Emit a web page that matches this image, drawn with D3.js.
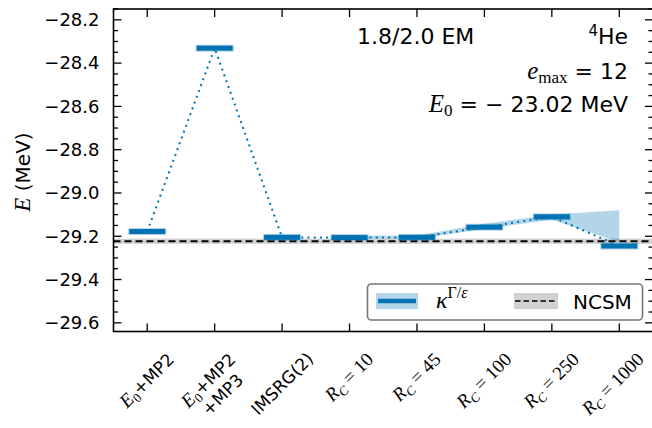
<!DOCTYPE html>
<html>
<head>
<meta charset="utf-8">
<script src="https://cdn.jsdelivr.net/npm/d3@7"></script>
<style>
  body { margin: 0; background: #fff; }
  svg { display: block; }
</style>
</head>
<body>
<div id="vis"></div>
<script>
// Energies of 4He for each method / truncation

/* *************************** Data ***************************** */
var categories = ['E0+MP2', 'E0+MP2+MP3', 'IMSRG(2)', 'Rc10', 'Rc45', 'Rc100', 'Rc250', 'Rc1000'];
var energies = [-29.178, -28.331, -29.205, -29.206, -29.205, -29.158, -29.110, -29.245];
var rcValues = ['10', '45', '100', '250', '1000'];

// uncertainty band for the R_C points (indices 3..7)
var bandIndex = [3, 4, 5, 6, 7];
var bandLow = [-29.212, -29.212, -29.166, -29.124, -29.228];
var bandHigh = [-29.198, -29.196, -29.142, -29.100, -29.080];

// NCSM reference value and its band
var ncsm = -29.223;
var ncsmBand = [-29.235, -29.211];

var yTicks = [-28.2, -28.4, -28.6, -28.8, -29.0, -29.2, -29.4, -29.6];
var yMinorTicks = d3.range(-29.6, -28.15, 0.05);

/* *************************** Settings ***************************** */
var width = 652;
var height = 428;
var margin = { left: 113.5, right: -1, top: 9, bottom: 96.5 };
var drawWidth = width - margin.left - margin.right;
var drawHeight = height - margin.top - margin.bottom;

var blue = '#0173b2';
var sans = '"DejaVu Sans", sans-serif';
var serif = '"Liberation Serif", "DejaVu Serif", serif';

var svg = d3.select('#vis').append('svg')
    .attr('width', width)
    .attr('height', height);

var xScale = d3.scaleLinear().domain([-0.5, 7.5]).range([margin.left, margin.left + drawWidth]);
var yScale = d3.scaleLinear().domain([-29.64, -28.15]).range([margin.top + drawHeight, margin.top]);

var x0 = margin.left, x1 = margin.left + drawWidth;
var yTop = margin.top, yBot = margin.top + drawHeight;

/* *************************** Marks ***************************** */
// R_C band
var area = d3.area()
    .x(function(d, i) { return xScale(bandIndex[i]); })
    .y0(function(d, i) { return yScale(bandLow[i]); })
    .y1(function(d, i) { return yScale(bandHigh[i]); });
svg.append('path')
    .datum(bandIndex)
    .attr('d', area)
    .attr('fill', blue)
    .attr('fill-opacity', 0.3);

// NCSM band and line
svg.append('rect')
    .attr('x', x0).attr('width', drawWidth)
    .attr('y', yScale(ncsmBand[1]))
    .attr('height', yScale(ncsmBand[0]) - yScale(ncsmBand[1]))
    .attr('fill', '#000').attr('fill-opacity', 0.18);
svg.append('line')
    .attr('x1', x0).attr('x2', x1)
    .attr('y1', yScale(ncsm)).attr('y2', yScale(ncsm))
    .attr('stroke', '#000').attr('stroke-width', 1.8)
    .attr('stroke-dasharray', '7,4');

// dotted connector
var line = d3.line()
    .x(function(d, i) { return xScale(i); })
    .y(function(d) { return yScale(d); });
svg.append('path')
    .datum(energies)
    .attr('d', line)
    .attr('fill', 'none')
    .attr('stroke', blue)
    .attr('stroke-width', 2)
    .attr('stroke-dasharray', '2,4.2');

// bars
var halfW = 0.267;
var bars = svg.append('g').selectAll('g').data(energies).enter().append('g');
bars.append('rect')
    .attr('x', function(d, i) { return xScale(i - halfW) - 1; })
    .attr('width', xScale(halfW) - xScale(-halfW) + 2)
    .attr('y', function(d) { return yScale(d) - 3.5; })
    .attr('height', 7)
    .attr('fill', blue).attr('fill-opacity', 0.3);
bars.append('rect')
    .attr('x', function(d, i) { return xScale(i - halfW); })
    .attr('width', xScale(halfW) - xScale(-halfW))
    .attr('y', function(d) { return yScale(d) - 2.5; })
    .attr('height', 5)
    .attr('fill', blue);

/* *************************** Axes ***************************** */
var yAxisL = d3.axisLeft(yScale).tickValues(yTicks).tickSize(0).tickPadding(14)
    .tickFormat(function(d) { return d3.format('.1f')(d).replace('-', '\u2212'); });
var gy = svg.append('g').attr('transform', 'translate(' + x0 + ',0)').call(yAxisL);
gy.select('.domain').remove();
gy.selectAll('text').attr('font-family', sans).attr('font-size', 18).attr('fill', '#000');

var ticks = svg.append('g').attr('stroke', '#000').attr('stroke-width', 1.3);
yMinorTicks.forEach(function(v) {
    var major = yTicks.some(function(t) { return Math.abs(t - v) < 1e-6; });
    var len = major ? 8 : 4.5;
    ticks.append('line').attr('x1', x0).attr('x2', x0 + len).attr('y1', yScale(v)).attr('y2', yScale(v));
    ticks.append('line').attr('x1', x1).attr('x2', x1 - len).attr('y1', yScale(v)).attr('y2', yScale(v));
});
categories.forEach(function(c, i) {
    ticks.append('line').attr('x1', xScale(i)).attr('x2', xScale(i)).attr('y1', yBot).attr('y2', yBot - 8);
    ticks.append('line').attr('x1', xScale(i)).attr('x2', xScale(i)).attr('y1', yTop).attr('y2', yTop + 8);
});

svg.append('rect')
    .attr('x', x0).attr('y', yTop).attr('width', drawWidth).attr('height', drawHeight)
    .attr('fill', 'none').attr('stroke', '#000').attr('stroke-width', 1.6);

// x tick labels, rotated 45 degrees, bounding box centred on the tick
function mathE0(t) {
    t.append('tspan').attr('font-family', serif).attr('font-style', 'italic').attr('font-size', 19).text('E');
    t.append('tspan').attr('font-family', serif).attr('font-size', 13).attr('dy', 4).text('0');
    t.append('tspan').attr('dy', -4).text('+MP2');
}
function mathRc(t, n) {
    t.append('tspan').attr('font-family', serif).attr('font-style', 'italic').attr('font-size', 19).text('R');
    t.append('tspan').attr('font-family', serif).attr('font-style', 'italic').attr('font-size', 13).attr('dy', 4).text('C');
    t.append('tspan').attr('font-family', serif).attr('font-size', 19).attr('dy', -4).text(' = ' + n);
}
var labelTop = yBot + 17;
var c45 = Math.SQRT1_2;
categories.forEach(function(c, i) {
    var t = svg.append('text').attr('font-family', sans).attr('font-size', 17)
        .attr('text-anchor', 'middle').attr('fill', '#000');
    if (i === 0) {
        mathE0(t);
    } else if (i === 1) {
        mathE0(t);
        t.append('tspan').attr('x', 0).attr('dy', 20).text('+MP3');
    } else if (i === 2) {
        t.text('IMSRG(2)');
    } else {
        mathRc(t, rcValues[i - 3]);
    }
    var b = t.node().getBBox();
    var pts = [[b.x, b.y], [b.x + b.width, b.y], [b.x, b.y + b.height], [b.x + b.width, b.y + b.height]]
        .map(function(p) { return [c45 * (p[0] + p[1]), c45 * (p[1] - p[0])]; });
    var minX = d3.min(pts, function(p) { return p[0]; });
    var maxX = d3.max(pts, function(p) { return p[0]; });
    var minY = d3.min(pts, function(p) { return p[1]; });
    var tx = xScale(i) - (minX + maxX) / 2;
    var ty = labelTop - minY;
    t.attr('transform', 'translate(' + tx.toFixed(2) + ',' + ty.toFixed(2) + ') rotate(-45)');
    // keep the label inside the picture
    var r = t.node().getBoundingClientRect();
    if (r.right > width - 2) {
        tx -= r.right - (width - 2);
        t.attr('transform', 'translate(' + tx.toFixed(2) + ',' + ty.toFixed(2) + ') rotate(-45)');
    }
});

// y axis label
var yl = svg.append('text')
    .attr('transform', 'translate(30,172) rotate(-90)')
    .attr('text-anchor', 'middle')
    .attr('font-family', sans).attr('font-size', 20);
yl.append('tspan').attr('font-family', serif).attr('font-style', 'italic').attr('font-size', 23).text('E');
yl.append('tspan').text(' (MeV)');

/* *************************** Annotations ***************************** */
svg.append('text').attr('x', 357).attr('y', 44)
    .attr('font-family', sans).attr('font-size', 22).text('1.8/2.0 EM');

var he = svg.append('text').attr('x', 628).attr('y', 44).attr('text-anchor', 'end')
    .attr('font-family', sans).attr('font-size', 22);
he.append('tspan').attr('font-size', 15).attr('dy', -8).text('4');
he.append('tspan').attr('dy', 8).text('He');

var em = svg.append('text').attr('x', 628).attr('y', 79).attr('text-anchor', 'end')
    .attr('font-family', sans).attr('font-size', 22);
em.append('tspan').attr('font-family', serif).attr('font-style', 'italic').attr('font-size', 25).text('e');
em.append('tspan').attr('font-family', serif).attr('font-size', 17).attr('dy', 4).text('max');
em.append('tspan').attr('dy', -4).text(' = 12');

var e0 = svg.append('text').attr('x', 628).attr('y', 112).attr('text-anchor', 'end')
    .attr('font-family', sans).attr('font-size', 22);
e0.append('tspan').attr('font-family', serif).attr('font-style', 'italic').attr('font-size', 25).text('E');
e0.append('tspan').attr('font-family', serif).attr('font-size', 17).attr('dy', 4).text('0');
e0.append('tspan').attr('dy', -4).text(' = \u2212 23.02 MeV');

/* *************************** Legend ***************************** */
var lg = svg.append('g');
lg.append('rect').attr('x', 367.5).attr('y', 284).attr('width', 275).attr('height', 36)
    .attr('rx', 4).attr('fill', '#fff').attr('fill-opacity', 0.85)
    .attr('stroke', '#777').attr('stroke-width', 1.6);
lg.append('rect').attr('x', 376).attr('y', 293).attr('width', 42).attr('height', 16)
    .attr('fill', blue).attr('fill-opacity', 0.3);
lg.append('line').attr('x1', 378).attr('x2', 416).attr('y1', 301).attr('y2', 301)
    .attr('stroke', blue).attr('stroke-width', 4.5);
var kt = lg.append('text').attr('x', 436).attr('y', 308).attr('font-family', serif).attr('font-size', 24);
kt.append('tspan').attr('font-style', 'italic').text('\u03ba');
kt.append('tspan').attr('font-size', 16).attr('dy', -10).text('\u0393/');
kt.append('tspan').attr('font-size', 16).attr('font-style', 'italic').text('\u03b5');

lg.append('rect').attr('x', 514).attr('y', 293).attr('width', 44).attr('height', 16)
    .attr('fill', '#000').attr('fill-opacity', 0.18);
lg.append('line').attr('x1', 515).attr('x2', 557).attr('y1', 301).attr('y2', 301)
    .attr('stroke', '#000').attr('stroke-width', 1.6).attr('stroke-dasharray', '5.5,3');
lg.append('text').attr('x', 573).attr('y', 309).attr('font-family', sans).attr('font-size', 20).text('NCSM');
</script>
</body>
</html>
